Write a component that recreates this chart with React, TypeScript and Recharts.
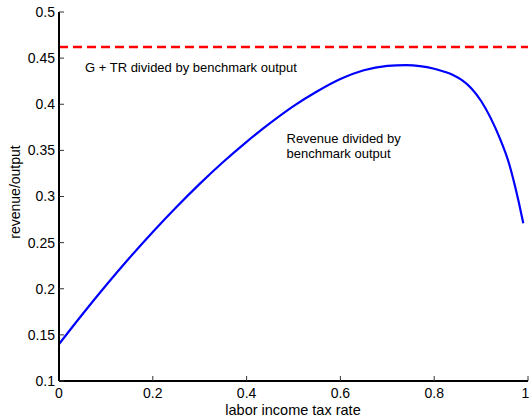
import { Line, LineChart, ReferenceLine, XAxis, YAxis } from 'recharts';

// labor income tax rate (x) and revenue / benchmark output (y)
const taxRate = [
  0, 0.05, 0.1, 0.15, 0.2, 0.25, 0.3, 0.35, 0.4, 0.45, 0.5, 0.55, 0.6, 0.65, 0.7, 0.74,
  0.8, 0.82, 0.84, 0.86, 0.88, 0.9, 0.92, 0.94, 0.96, 0.97, 0.98, 0.99,
];
const revenue = [
  0.14, 0.1724, 0.2035, 0.2333, 0.2616, 0.2884, 0.3137, 0.3374, 0.3593, 0.3795, 0.398, 0.4138,
  0.4273, 0.4368, 0.4415, 0.4425, 0.4385, 0.4355, 0.4318, 0.4258, 0.4168, 0.4035, 0.3855, 0.363,
  0.335, 0.316, 0.2945, 0.271,
];
const gPlusTr = 0.462;

const xTicks = [0, 0.2, 0.4, 0.6, 0.8, 1];
const yTicks = [0.1, 0.15, 0.2, 0.25, 0.3, 0.35, 0.4, 0.45, 0.5];

const data = taxRate.map((t, i) => ({ t, rev: revenue[i] }));

const FONT = '"Liberation Sans", Arial, Helvetica, sans-serif';
const tickStyle = { fill: '#000', fontSize: 14, fontFamily: FONT };
const blank = () => '';

export default function App() {
  return (
    <div style={{ position: 'absolute', left: 0, top: 0, background: '#fff' }}>
      <LineChart
        width={529}
        height={416}
        data={data}
        margin={{ top: 12, right: 1, bottom: 0, left: 0 }}
        style={{ fontFamily: FONT }}
      >
        <XAxis
          dataKey="t"
          type="number"
          domain={[0, 1]}
          ticks={xTicks}
          height={35}
          tickSize={-5}
          tickMargin={12}
          tick={tickStyle}
          axisLine={{ stroke: '#000', strokeWidth: 2 }}
          tickLine={{ stroke: '#333' }}
        />
        <XAxis
          xAxisId="top"
          orientation="top"
          dataKey="t"
          type="number"
          domain={[0, 1]}
          ticks={xTicks}
          height={0}
          tickSize={-5}
          tickFormatter={blank}
          axisLine={{ stroke: '#222', strokeWidth: 1 }}
          tickLine={{ stroke: '#444' }}
        />
        <YAxis
          type="number"
          domain={[0.1, 0.5]}
          ticks={yTicks}
          width={59}
          tickSize={-5}
          tickMargin={9}
          tick={tickStyle}
          allowDataOverflow
          axisLine={{ stroke: '#000', strokeWidth: 2 }}
          tickLine={{ stroke: '#333' }}
        />
        <YAxis
          yAxisId="right"
          orientation="right"
          type="number"
          domain={[0.1, 0.5]}
          ticks={yTicks}
          width={0}
          tickSize={-5}
          tickFormatter={blank}
          axisLine={{ stroke: '#222', strokeWidth: 1 }}
          tickLine={{ stroke: '#444' }}
        />
        <ReferenceLine y={gPlusTr} stroke="#ff0000" strokeWidth={2.5} strokeDasharray="9 5" />
        <Line
          dataKey="rev"
          type="monotone"
          stroke="#0000ff"
          strokeWidth={2.2}
          dot={false}
          isAnimationActive={false}
        />
        <text x={85} y={71.5} fontSize={13} fill="#000" fontFamily={FONT}>
          G + TR divided by benchmark output
        </text>
        <text x={286.5} y={143.3} fontSize={13} fill="#000" fontFamily={FONT}>
          Revenue divided by
        </text>
        <text x={286.5} y={157.6} fontSize={13} fill="#000" fontFamily={FONT}>
          benchmark output
        </text>
        <text x={293} y={414.5} fontSize={14.5} fill="#000" textAnchor="middle" fontFamily={FONT}>
          labor income tax rate
        </text>
        <text
          x={20}
          y={192}
          fontSize={14}
          fill="#000"
          textAnchor="middle"
          fontFamily={FONT}
          transform="rotate(-90 20 192)"
        >
          revenue/output
        </text>
      </LineChart>
    </div>
  );
}
